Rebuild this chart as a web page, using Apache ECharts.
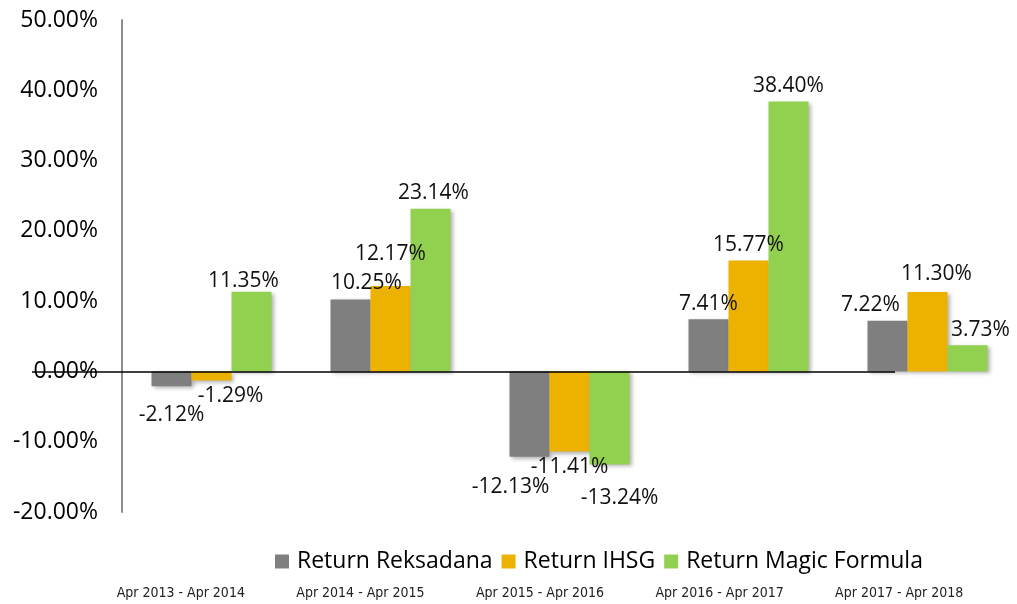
<!DOCTYPE html>
<html>
<head>
<meta charset="utf-8">
<script src="https://cdn.jsdelivr.net/npm/echarts@6/dist/echarts.min.js"></script>
<style>
  html, body { margin: 0; padding: 0; background: #fff; }
  #chart { width: 1017px; height: 604px; }
</style>
</head>
<body>
<div id="chart"></div>
<script>
const periods = ['Apr 2013 - Apr 2014', 'Apr 2014 - Apr 2015', 'Apr 2015 - Apr 2016', 'Apr 2016 - Apr 2017', 'Apr 2017 - Apr 2018'];
const reksadana = [-2.12, 10.25, -12.13, 7.41, 7.22];
const ihsg = [-1.29, 12.17, -11.41, 15.77, 11.30];
const magicFormula = [11.35, 23.14, -13.24, 38.40, 3.73];
const yTicks = { min: -20, max: 50, step: 10 };

// label nudges (px), the source placed some labels by hand
const offReks = [[0, 13], [16, -1], [-19, 15], [0, 0], [-17, 0]];
const offIhsg = [[19, 0], [0, -16], [0, 0], [0, 0], [9, -2]];
const offMagic = [[-8, 5], [3, 0], [10, 18], [0, 0], [13, 0]];

const pct = v => v.toFixed(2) + '%';
const FONT = 'Open Sans';

function items(vals, offs) {
  return vals.map((v, i) => ({
    value: v,
    label: { position: v < 0 ? 'bottom' : 'top', offset: offs[i] }
  }));
}

function bar(name, vals, offs, color) {
  return {
    name, type: 'bar', xAxisIndex: 0, yAxisIndex: 0,
    barWidth: 40, barGap: '0%',
    data: items(vals, offs),
    itemStyle: {
      color,
      shadowColor: 'rgba(0,0,0,0.3)', shadowBlur: 4, shadowOffsetX: 2, shadowOffsetY: 2
    },
    label: {
      show: true, distance: 5, fontFamily: FONT, fontSize: 21, color: '#111',
      formatter: p => pct(p.value)
    }
  };
}

const chart = echarts.init(document.getElementById('chart'));
const series = [
  bar('Return Reksadana', reksadana, offReks, '#7F7F7F'),
  bar('Return IHSG', ihsg, offIhsg, '#EDB200'),
  bar('Return Magic Formula', magicFormula, offMagic, '#92D050')
];
// zero line: runs through the 0.00% label and stops short of the last group
series[0].markLine = {
  silent: true, symbol: 'none', label: { show: false },
  lineStyle: { color: '#000', width: 1.5, type: 'solid' },
  data: [[{ x: 32, yAxis: 0 }, { x: 895, yAxis: 0 }]]
};

chart.setOption({
  backgroundColor: '#fff',
  animation: false,
  textStyle: { fontFamily: FONT },
  legend: {
    left: 270, top: 545,
    itemWidth: 14, itemHeight: 14, itemGap: 9,
    icon: 'rect',
    textStyle: { fontFamily: FONT, fontSize: 23, color: '#000', padding: [0, 0, 0, 3] },
    data: series.map(s => s.name)
  },
  grid: [
    { left: 122, top: 20, width: 898, height: 492 },
    { left: 91, top: 20, width: 898, height: 492 }
  ],
  xAxis: [
    {
      type: 'category', gridIndex: 0, data: periods,
      axisLine: { show: false }, axisTick: { show: false }, axisLabel: { show: false }
    },
    {
      type: 'category', gridIndex: 1, data: periods, position: 'bottom',
      axisLine: { show: false }, axisTick: { show: false },
      axisLabel: { margin: 74, fontFamily: 'DejaVu Sans Condensed', fontSize: 14, color: '#222' }
    }
  ],
  yAxis: [
    {
      type: 'value', gridIndex: 0, min: yTicks.min, max: yTicks.max, interval: yTicks.step,
      axisLine: { show: true, lineStyle: { color: '#8c8c8c', width: 2 } },
      axisTick: { show: false }, splitLine: { show: false },
      axisLabel: { margin: 24, fontFamily: FONT, fontSize: 23, color: '#000', formatter: pct }
    },
    { type: 'value', gridIndex: 1, show: false }
  ],
  series
});
</script>
</body>
</html>
